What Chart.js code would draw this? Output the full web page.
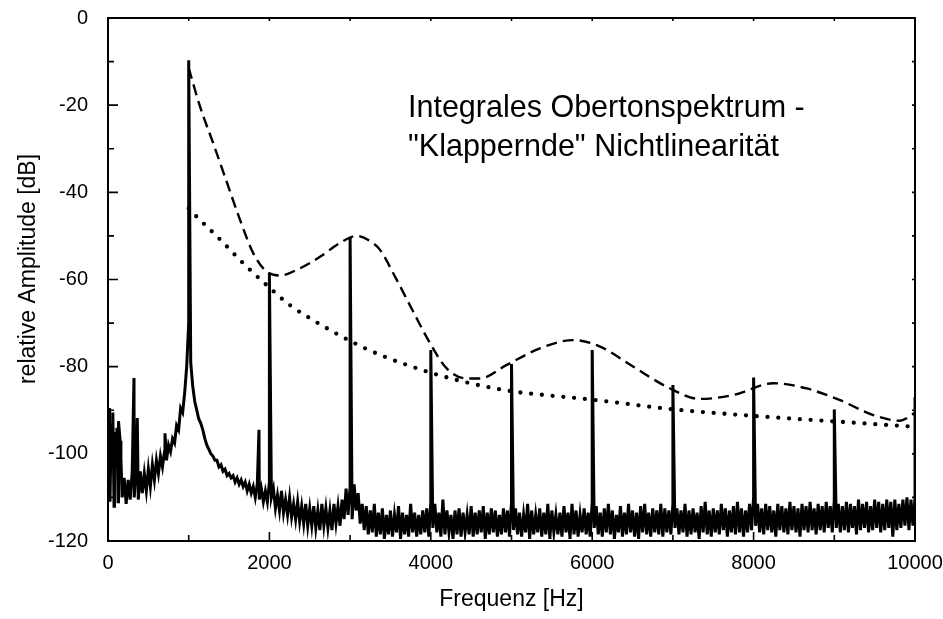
<!DOCTYPE html>
<html>
<head>
<meta charset="utf-8">
<script src="https://cdn.jsdelivr.net/npm/chart.js@4/dist/chart.umd.min.js"></script>
<style>
html,body{margin:0;padding:0;background:#fff;}
#wrap{width:943px;height:619px;}
</style>
</head>
<body>
<div id="wrap"><canvas id="c" width="943" height="619"></canvas></div>
<script>
// ---------------- DATA ----------------
const xTitle = 'Frequenz [Hz]';
const yTitle = 'relative Amplitude [dB]';
const noteLines = ['Integrales Obertonspektrum -', '"Klappernde" Nichtlinearität'];

const xTickValues = [0, 2000, 4000, 6000, 8000, 10000];
const yTickValues = [-120, -100, -80, -60, -40, -20, 0];

// measured spectrum: noise floor, upper envelope sampled every 50 Hz (0 ... 10000 Hz)
const FREQ_STEP = 50;
const floorUpper = [
  -96, -94, -100, -97, -105.5, -106, -104, -103, -104, -104.5, -103.5, -102.5, -101.5, -100.5, -99.5, -98, -96.5, -93.5, -89.5, -86,
  -70, -84.5, -90, -93, -96.5, -99, -100.5, -101.5, -102.5, -103.5, -104.5, -105, -105.5, -106, -106.5, -107, -107.5, -107, -108, -108.5,
  -106.5, -108, -109.5, -108.5, -110.5, -110, -111.5, -111, -112, -111.5, -112.5, -112, -113, -111.5, -112.5, -113, -111.5, -112, -110.5, -108,
  -107.5, -107, -109, -111.5, -112, -113, -111.5, -113.5, -112.5, -114, -113, -114, -112, -113.5, -114, -111.5, -113.5, -114, -113, -112.5,
  -111, -111.5, -113.5, -110.5, -113, -114, -113, -112.5, -113.5, -114, -112, -113.5, -113, -112, -113.5, -112.5, -113, -114, -112.5, -113,
  -111, -112.5, -113.5, -114, -111.5, -113, -114, -112.5, -113.5, -111.5, -113, -114, -113.5, -112, -113.5, -111.5, -113, -114, -112.5, -113.5,
  -111, -112, -113.5, -112.5, -111.5, -113, -114, -112, -113.5, -111.5, -113, -113.5, -112, -111.5, -113.5, -112.5, -113, -111.5, -112.5, -113,
  -111.5, -112.5, -113, -111.5, -113, -112.5, -113.5, -112, -111, -113, -112.5, -113, -111.5, -112.5, -113, -112, -111, -112.5, -113, -111.5,
  -110, -111.5, -112.5, -111.5, -112, -113, -111.5, -112, -112.5, -111, -112, -112.5, -111.5, -112, -111, -112.5, -111.5, -112, -111, -112,
  -110.5, -111.5, -112, -111, -111.5, -112, -110.5, -111.5, -111, -112, -110.5, -111, -111.5, -110.5, -111, -110.5, -111.5, -110.5, -110, -110.5,
  -110
];
// noise floor, lower envelope sampled every 50 Hz, offset by half a step (25 ... 9975 Hz)
const floorLower = [
  -111, -112, -111, -110, -111.5, -110.5, -110, -110.5, -109, -108.5, -107.5, -106, -104.5, -103, -101.5, -99.5, -97.5, -94.5, -90.5, -80,
  -79, -88, -92, -94.5, -98, -100, -101.5, -103, -104, -105, -105.5, -106.5, -107, -107.5, -108.5, -109, -110, -110.5, -111, -111,
  -110, -112.5, -113, -113.5, -114, -114.5, -115, -115.5, -116, -116.5, -116.5, -117, -117.5, -116.5, -117, -117.5, -116, -116.5, -115, -114,
  -115, -113, -116, -117.5, -118.5, -118, -119, -118.5, -119.5, -118.5, -119, -118, -119.5, -118.5, -119, -118, -119, -118.5, -118, -119,
  -117, -118, -119, -118.5, -118, -119.5, -118.5, -119, -118, -118.5, -119, -118.5, -118, -119.5, -118.5, -118, -119, -118.5, -118, -119,
  -117.5, -118.5, -119, -118, -119.5, -118.5, -118, -119, -118.5, -119.5, -118, -118.5, -119, -118, -119.5, -118.5, -119, -118, -118.5, -119,
  -117, -118.5, -119, -118, -118.5, -119.5, -118, -119, -118.5, -118, -119, -119.5, -118, -118.5, -119, -118, -118.5, -119, -118, -118.5,
  -117, -118.5, -118, -119, -118.5, -118, -119.5, -118, -118.5, -119, -118, -118.5, -117.5, -119, -118, -118.5, -118, -119, -118, -117.5,
  -116.5, -118, -118.5, -117.5, -118, -119, -117.5, -118, -118.5, -117.5, -118, -119, -117.5, -118, -117.5, -118.5, -117.5, -118, -117, -118,
  -117, -118, -117.5, -118, -117, -118.5, -117.5, -117, -118, -117.5, -117, -118, -117.5, -117, -119, -117.5, -117, -116.5, -117.5, -116.5
];
// narrow spectral lines (harmonics and low-frequency spurs)
const peakFreqs  = [10, 20, 40, 60, 80, 95, 110, 130, 160, 322, 363, 706, 1000, 1871, 2000, 3000, 4000, 5000, 6000, 7000, 8000, 9000, 10000];
const peakLevels = [-92, -89.5, -93, -90.5, -95, -98, -94, -92.5, -101, -82.6, -91.8, -95.3, -9.7, -94.5, -58.7, -50.2, -76.2, -79.4, -76.2, -84.2, -82.5, -89.8, -87];

// dashed envelope curve
const dashFreqs = [1000, 1140, 1305, 1471, 1636, 1801, 1966, 2131, 2338, 2627, 2875, 3082, 3288, 3371, 3578, 3783, 3990, 4197, 4445, 4610, 4941, 5353, 5766, 6097, 6510, 6923, 7336, 7749, 8244, 8658, 9071, 9483, 9814, 10000];
const dashLevels = [-11.5, -20.3, -28.8, -37.6, -46.3, -54, -58.2, -59.1, -57.8, -54.8, -51.6, -50, -51.7, -53.2, -60.1, -67.4, -74.6, -80.4, -82.7, -82.7, -79.6, -75.8, -73.9, -75.4, -80, -84.6, -87.4, -86.5, -83.8, -85, -87.7, -91.1, -92.4, -90.6];

// dotted curve
const dotFreqs  = [1000, 1099, 1388, 1677, 1966, 2255, 2503, 3000, 3371, 3949, 4486, 5022, 5518, 6014, 7004, 7996, 9030, 10000];
const dotLevels = [-43.7, -45.6, -50.8, -56.3, -61.3, -65.9, -68.9, -74.1, -77.3, -81.1, -83.8, -85.7, -86.7, -87.6, -89.8, -91.3, -92.6, -93.8];

// ---------------- BUILD ----------------
const spectrum = [];
floorUpper.forEach((v, i) => spectrum.push({x: i * FREQ_STEP, y: v, o: 0}));
floorLower.forEach((v, i) => spectrum.push({x: i * FREQ_STEP + FREQ_STEP / 2, y: v, o: 0}));
peakFreqs.forEach((f, i) => spectrum.push({x: f, y: peakLevels[i], o: 1}));
spectrum.sort((a, b) => (a.x - b.x) || (a.o - b.o));
const spectrumData = spectrum.map(p => ({x: p.x, y: p.y}));
const dashData = dashFreqs.map((f, i) => ({x: f, y: dashLevels[i]}));
const dotData = dotFreqs.map((f, i) => ({x: f, y: dotLevels[i]}));

const FONT = '"Liberation Sans", Arial, sans-serif';

const framePlugin = {
  id: 'frame',
  afterDatasetsDraw(chart) {
    const {ctx, chartArea: a, scales: {x, y}} = chart;
    ctx.save();
    ctx.strokeStyle = '#000';
    ctx.lineWidth = 2;
    ctx.strokeRect(a.left, a.top, a.right - a.left, a.bottom - a.top);
    ctx.lineWidth = 1.6;
    ctx.beginPath();
    for (let v = x.min; v <= x.max; v += 1000) {
      const px = x.getPixelForValue(v);
      const major = v % 2000 === 0;
      ctx.moveTo(px, a.bottom); ctx.lineTo(px, a.bottom - (major ? 9 : 6));
      ctx.moveTo(px, a.top); ctx.lineTo(px, a.top + 3);
    }
    for (let v = y.min; v <= y.max; v += 10) {
      const py = y.getPixelForValue(v);
      const major = v % 20 === 0;
      ctx.moveTo(a.left, py); ctx.lineTo(a.left + (major ? 10 : 6), py);
      ctx.moveTo(a.right, py); ctx.lineTo(a.right - 3, py);
    }
    ctx.stroke();

    ctx.fillStyle = '#000';
    ctx.font = '23px ' + FONT;
    ctx.textAlign = 'center';
    ctx.textBaseline = 'middle';
    ctx.fillText(xTitle, (a.left + a.right) / 2, 600);
    ctx.save();
    ctx.translate(29, 269);
    ctx.rotate(-Math.PI / 2);
    ctx.fillText(yTitle, 0, 0);
    ctx.restore();

    ctx.font = '30.5px ' + FONT;
    ctx.textAlign = 'left';
    ctx.textBaseline = 'alphabetic';
    ctx.fillText(noteLines[0], 408, 117);
    ctx.fillText(noteLines[1], 408, 155.5);
    ctx.restore();
  }
};

new Chart(document.getElementById('c'), {
  type: 'scatter',
  data: {
    datasets: [
      {data: spectrumData, showLine: true, borderColor: '#000', borderWidth: 3, pointRadius: 0, tension: 0, borderJoinStyle: 'miter'},
      {data: dashData, showLine: true, borderColor: '#000', borderWidth: 2.4, borderDash: [11, 6], pointRadius: 0, cubicInterpolationMode: 'monotone'},
      {data: dotData, showLine: true, borderColor: '#000', borderWidth: 4.3, borderDash: [0, 10.8], borderCapStyle: 'round', pointRadius: 0, cubicInterpolationMode: 'monotone'}
    ]
  },
  options: {
    responsive: false,
    animation: false,
    devicePixelRatio: 1,
    layout: {padding: {left: 0, right: 28, top: 18, bottom: 0}},
    plugins: {legend: {display: false}, tooltip: {enabled: false}},
    scales: {
      x: {
        type: 'linear', min: 0, max: 10000,
        afterBuildTicks: s => { s.ticks = xTickValues.map(v => ({value: v})); },
        ticks: {color: '#000', font: {family: FONT, size: 20}, padding: 2, maxRotation: 0, callback: v => String(v)},
        grid: {display: false},
        border: {display: false},
        afterFit: s => { s.height = 78; s.paddingLeft = 0; s.paddingRight = 0; }
      },
      y: {
        type: 'linear', min: -120, max: 0,
        afterBuildTicks: s => { s.ticks = yTickValues.map(v => ({value: v})); },
        ticks: {color: '#000', font: {family: FONT, size: 20}, padding: 12, callback: v => String(v)},
        grid: {display: false},
        border: {display: false},
        afterFit: s => { s.width = 108; s.paddingTop = 0; s.paddingBottom = 0; }
      }
    }
  },
  plugins: [framePlugin]
});
</script>
</body>
</html>
